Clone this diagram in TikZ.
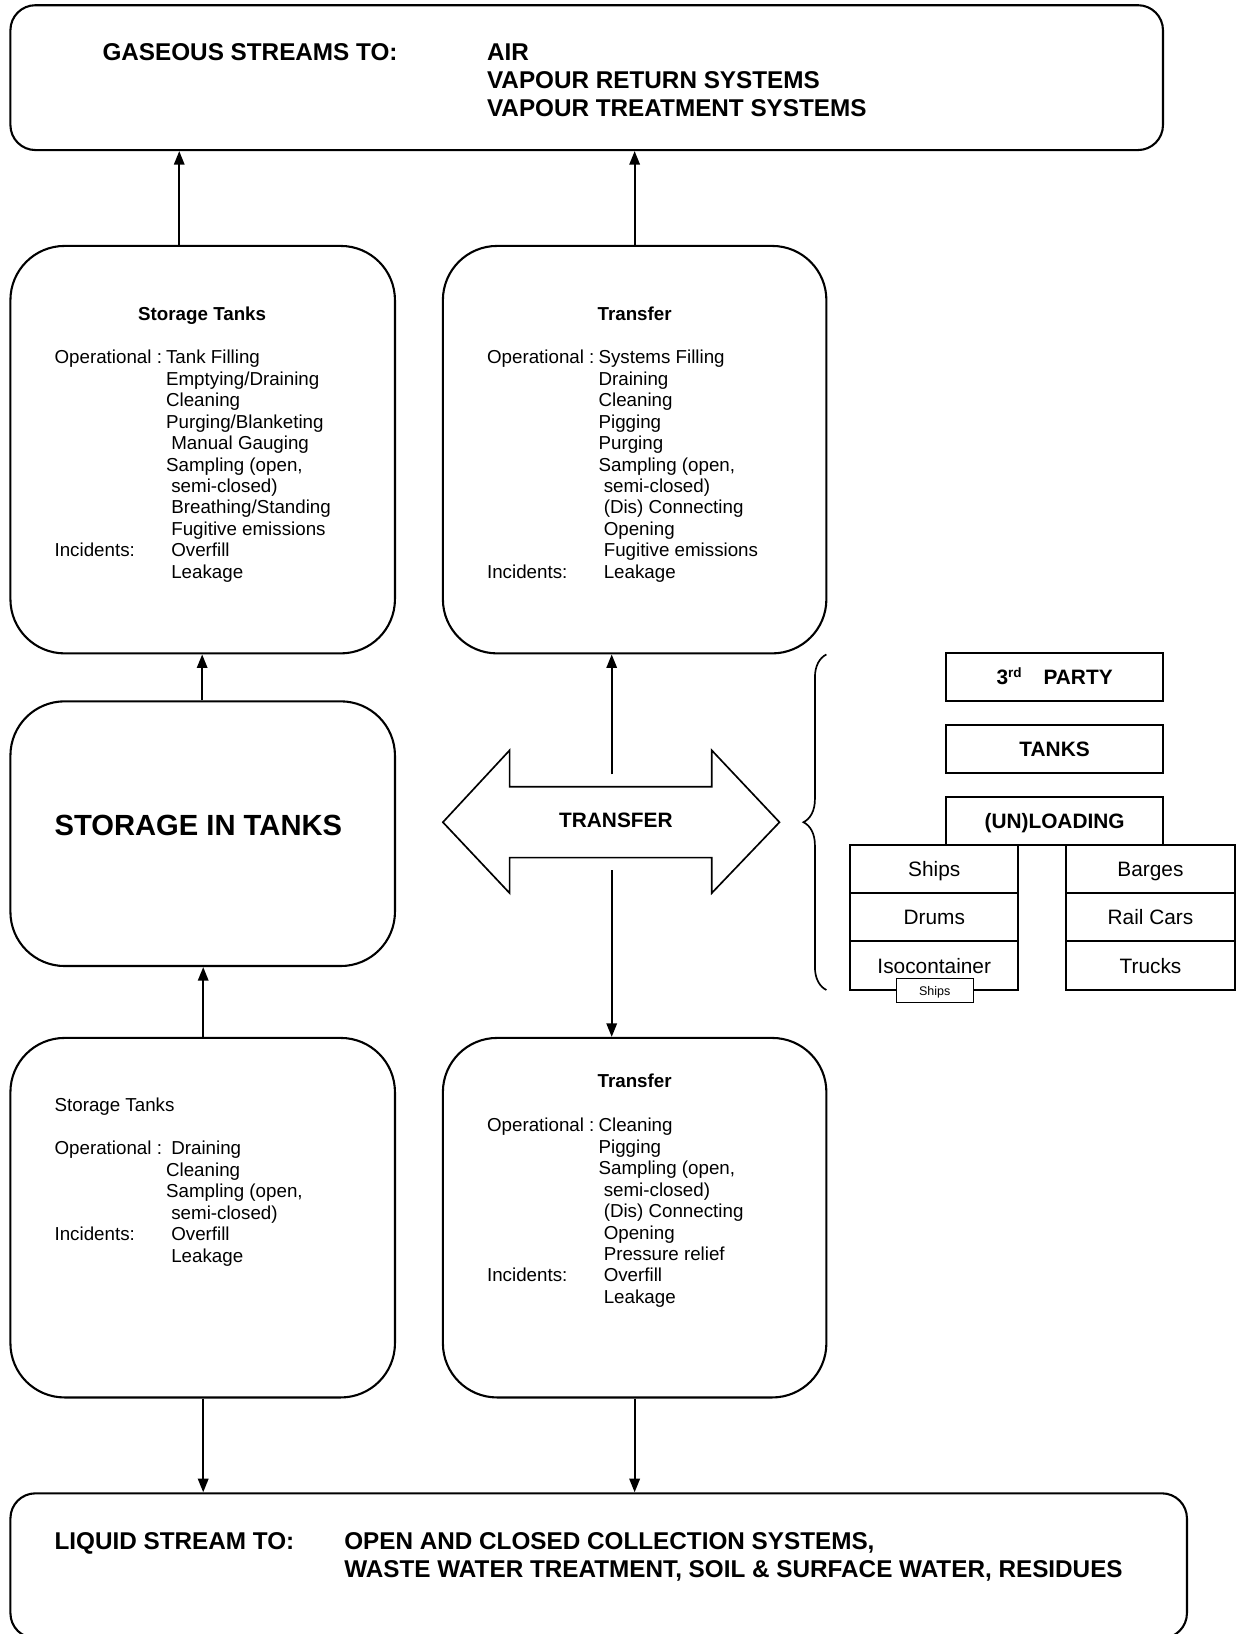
\documentclass[tikz,border=0pt]{standalone}
\usepackage{fontspec}
\setmainfont{Liberation Sans}
\usetikzlibrary{arrows.meta,decorations.pathreplacing}
\newcommand\lab[1]{\makebox[53.5pt][l]{#1}}
\newcommand\ind{\hspace*{2.5pt}}
\begin{document}
\begin{tikzpicture}[x=0.5pt,y=-0.5pt]
\tikzset{
 rbox/.style={draw, line width=1pt, rounded corners=26pt, inner sep=0pt, minimum width=184.5pt},
 wbox/.style={draw, line width=1pt, rounded corners=12pt, inner sep=0pt, minimum height=69.5pt},
 sbox/.style={draw, line width=1pt, inner sep=0pt, minimum width=104pt, minimum height=23pt, font=\bfseries\fontsize{10}{12}\selectfont, text height=7.2pt, text depth=0pt},
 ibox/.style={draw, line width=1pt, inner sep=0pt, minimum width=80.5pt, minimum height=23pt, font=\fontsize{10}{12}\selectfont, text height=7.2pt, text depth=0pt},
 arr/.style={line width=0.9pt, -{Triangle[length=6.5pt,width=5pt]}},
 body/.style={anchor=base west, inner sep=0pt, font=\fontsize{9}{10.3}\selectfont},
 ttl/.style={anchor=base, inner sep=0pt, font=\bfseries\fontsize{9}{10.3}\selectfont},
 big/.style={anchor=base west, inner sep=0pt, font=\bfseries\fontsize{11.65}{13.5}\selectfont},
}
\clip (0,0) rectangle (1190,1568);
\useasboundingbox (0,0) rectangle (1190,1568);

% top box
\node[wbox, minimum width=553pt] (top) at (563,74.5) {};
\node[big] (gs) at (98,58) {GASEOUS STREAMS TO:};
\node[big] (gsl) at (467,58) {\begin{tabular}[t]{@{}l@{}}AIR\\VAPOUR RETURN SYSTEMS\\VAPOUR TREATMENT SYSTEMS\end{tabular}};

% upper storage tanks
\node[rbox, minimum height=195.5pt] (st1) at (194.5,431.5) {};
\node[ttl] (st1t) at (194,308) {Storage Tanks};
\node[body] (st1b) at (52,349) {\begin{tabular}[t]{@{}l@{}}
\lab{Operational :}Tank Filling\\
\lab{}Emptying/Draining\\
\lab{}Cleaning\\
\lab{}Purging/Blanketing\\
\lab{}\ind Manual Gauging\\
\lab{}Sampling (open,\\
\lab{}\ind semi-closed)\\
\lab{}\ind Breathing/Standing\\
\lab{}\ind Fugitive emissions\\
\lab{Incidents:}\ind Overfill\\
\lab{}\ind Leakage
\end{tabular}};

% upper transfer
\node[rbox, minimum width=184pt, minimum height=195.5pt] (tr1) at (609,431.5) {};
\node[ttl] (tr1t) at (609,308) {Transfer};
\node[body] (tr1b) at (467,349) {\begin{tabular}[t]{@{}l@{}}
\lab{Operational :}Systems Filling\\
\lab{}Draining\\
\lab{}Cleaning\\
\lab{}Pigging\\
\lab{}Purging\\
\lab{}Sampling (open,\\
\lab{}\ind semi-closed)\\
\lab{}\ind (Dis) Connecting\\
\lab{}\ind Opening\\
\lab{}\ind Fugitive emissions\\
\lab{Incidents:}\ind Leakage
\end{tabular}};

% storage in tanks
\node[rbox, minimum height=127pt] (sit) at (194.5,800) {};
\node[anchor=base west, inner sep=0pt, font=\bfseries\fontsize{14}{16}\selectfont] (sitt) at (52,802) {STORAGE IN TANKS};

% transfer double arrow
\draw[line width=0.8pt] (425,789) -- (489,720) -- (489,755) -- (683,755) -- (683,720) -- (748,789) -- (683,857) -- (683,823) -- (489,823) -- (489,857) -- cycle;
\node[anchor=base, inner sep=0pt, font=\bfseries\fontsize{10}{12}\selectfont] (xfer) at (591,794) {TRANSFER};
\coordinate (xu) at (587,743);
\coordinate (xd) at (587,835);

% lower storage tanks
\node[rbox, minimum height=172.5pt] (st2) at (194.5,1168.5) {};
\node[body] (st2b) at (52,1067) {\begin{tabular}[t]{@{}l@{}}
Storage Tanks\\
\\
\lab{Operational :}\ind Draining\\
\lab{}Cleaning\\
\lab{}Sampling (open,\\
\lab{}\ind semi-closed)\\
\lab{Incidents:}\ind Overfill\\
\lab{}\ind Leakage
\end{tabular}};

% lower transfer
\node[rbox, minimum width=184pt, minimum height=172.5pt] (tr2) at (609,1168.5) {};
\node[ttl] (tr2t) at (609,1044) {Transfer};
\node[body] (tr2b) at (467,1086) {\begin{tabular}[t]{@{}l@{}}
\lab{Operational :}Cleaning\\
\lab{}Pigging\\
\lab{}Sampling (open,\\
\lab{}\ind semi-closed)\\
\lab{}\ind (Dis) Connecting\\
\lab{}\ind Opening\\
\lab{}\ind Pressure relief\\
\lab{Incidents:}\ind Overfill\\
\lab{}\ind Leakage
\end{tabular}};

% bottom box
\node[wbox, minimum width=564.5pt] (bot) at (574.5,1502.5) {};
\node[big] (ls) at (52,1487) {LIQUID STREAM TO:};
\node[big] (lsl) at (330,1487) {\begin{tabular}[t]{@{}l@{}}OPEN AND CLOSED COLLECTION SYSTEMS,\\WASTE WATER TREATMENT, SOIL \& SURFACE WATER, RESIDUES\end{tabular}};

% brace
\coordinate (brb) at (793,950);
\coordinate (brt) at (793,628);
\draw[line width=0.8pt, decorate, decoration={brace, amplitude=11pt}] (brb) -- (brt);

% right boxes
\node[sbox] (p3) at (1012,650) {3\textsuperscript{\fontsize{6.5}{7}\selectfont rd}\hspace{10pt}PARTY};
\node[sbox] (tk) at (1012,719) {TANKS};
\node[sbox] (ul) at (1012,788) {(UN)LOADING};
\node[ibox] (ships) at (896.5,834) {Ships};
\node[ibox] (drums) at (896.5,880) {Drums};
\node[ibox, minimum height=23.5pt] (iso) at (896.5,926.5) {Isocontainer};
\node[ibox, minimum width=81pt] (barges) at (1104,834) {Barges};
\node[ibox, minimum width=81pt] (rail) at (1104,880) {Rail Cars};
\node[ibox, minimum width=81pt, minimum height=23.5pt] (trucks) at (1104,926.5) {Trucks};
\node[draw, fill=white, line width=0.5pt, minimum width=37pt, minimum height=11.5pt, inner sep=0pt, font=\fontsize{6}{7}\selectfont, text height=4.3pt, text depth=0pt] (sships) at (897,950.5) {Ships};

% connectors
\coordinate (a1) at (172,0);
\draw[arr] (a1 |- st1.north) -- (a1 |- top.south);
\draw[arr] (tr1.north) -- (tr1.north |- top.south);
\coordinate (a3) at (194,0);
\draw[arr] (a3 |- sit.north) -- (a3 |- st1.south);
\draw[arr] (xu) -- (xu |- tr1.south);
\draw[arr] (xd) -- (xd |- tr2.north);
\coordinate (a6) at (195,0);
\draw[arr] (a6 |- st2.north) -- (a6 |- sit.south);
\draw[arr] (a6 |- st2.south) -- (a6 |- bot.north);
\draw[arr] (tr2.south) -- (tr2.south |- bot.north);
\end{tikzpicture}
\end{document}
